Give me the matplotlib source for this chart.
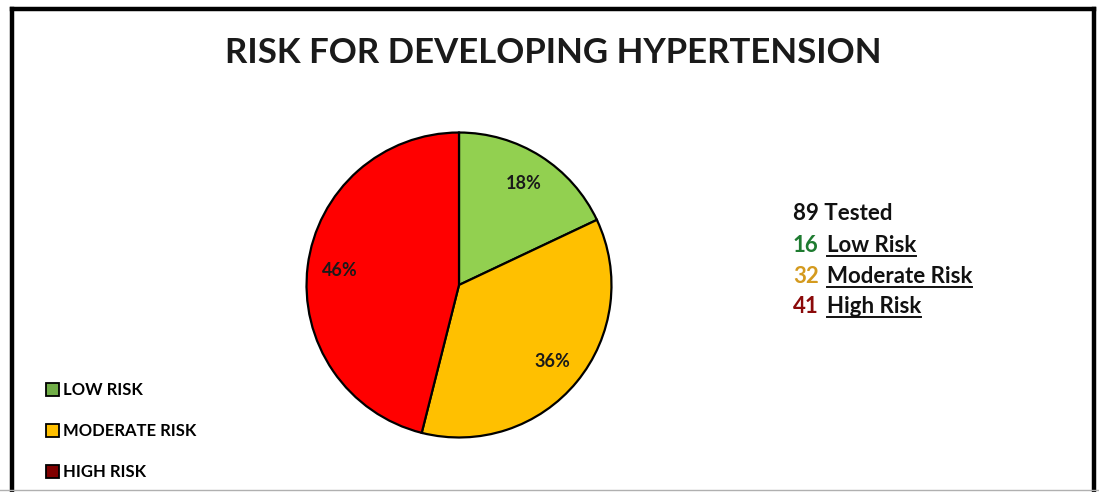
import matplotlib.pyplot as plt
from matplotlib.patches import Patch
from matplotlib.lines import Line2D

categories = ['Low Risk', 'Moderate Risk', 'High Risk']
counts = [16, 32, 41]
tested = 89
pie_colors = ['#92D050', '#FFC000', '#FF0000']
legend_colors = ['#70AD47', '#FFC000', '#800000']
count_colors = ['#1E7B30', '#D49A1E', '#8B0A0A']
title = 'RISK FOR DEVELOPING HYPERTENSION'

W, H = 1099, 492
fig = plt.figure(figsize=(W / 100, H / 100), dpi=100)
plt.rcParams['font.family'] = ['Lato', 'DejaVu Sans']


def fx(px):
    return px / W


def fy(py):
    return 1 - py / H


# chart frame (open at the bottom, image is cropped)
frame_kw = dict(color='black', lw=3.2, transform=fig.transFigure, solid_capstyle='projecting')
fig.add_artist(Line2D([fx(12), fx(12)], [fy(9), fy(492)], **frame_kw))
fig.add_artist(Line2D([fx(12), fx(1094)], [fy(9), fy(9)], **frame_kw))
fig.add_artist(Line2D([fx(1094), fx(1094)], [fy(9), fy(492)], **frame_kw))
fig.add_artist(Line2D([0, 1], [fy(490), fy(490)], color='#b0b0b0', lw=1,
                      transform=fig.transFigure))

fig.text(fx(553), fy(53), title, ha='center', va='center',
         fontsize=25, fontweight='bold', color='#1a1a1a')

# pie
cx, cy, r = 459, 285, 154
ax = fig.add_axes([fx(cx - r), fy(cy + r), (2 * r) / W, (2 * r) / H])
ax.pie(counts, colors=pie_colors, startangle=90, counterclock=False,
       autopct='%1.0f%%', pctdistance=0.79,
       wedgeprops=dict(edgecolor='black', linewidth=1.6),
       textprops=dict(fontsize=13, fontweight='bold', color='#1a1a1a'))
ax.set_xlim(-1.01, 1.01)
ax.set_ylim(-1.01, 1.01)
ax.set_aspect('equal')

# left legend
handles = [Patch(facecolor=c, edgecolor='black', linewidth=1.3) for c in legend_colors]
fig.legend(handles, [c.upper() for c in categories], loc='upper left',
           bbox_to_anchor=(fx(31), fy(367)), frameon=False,
           handlelength=0.8, handleheight=0.8, handletextpad=0.2,
           labelspacing=1.5, prop=dict(size=12, weight='bold'))

# right summary text
fig.text(fx(793), fy(220), f'{tested} Tested', ha='left', va='baseline',
         fontsize=16, fontweight='bold', color='#111111')
rows_y = [252, 283, 313]
word_texts = []
for n, cat, col, yy in zip(counts, categories, count_colors, rows_y):
    fig.text(fx(793), fy(yy), str(n), ha='left', va='baseline',
             fontsize=16, fontweight='bold', color=col)
    t = fig.text(fx(827), fy(yy), cat, ha='left', va='baseline',
                 fontsize=16, fontweight='bold', color='#111111')
    word_texts.append((t, yy))

fig.canvas.draw()
renderer = fig.canvas.get_renderer()
for t, yy in word_texts:
    bb = t.get_window_extent(renderer)
    fig.add_artist(Line2D([bb.x0 / W, bb.x1 / W], [fy(yy + 4), fy(yy + 4)],
                          color='#111111', lw=1.4, transform=fig.transFigure))

fig.savefig('out.png', dpi=100)
